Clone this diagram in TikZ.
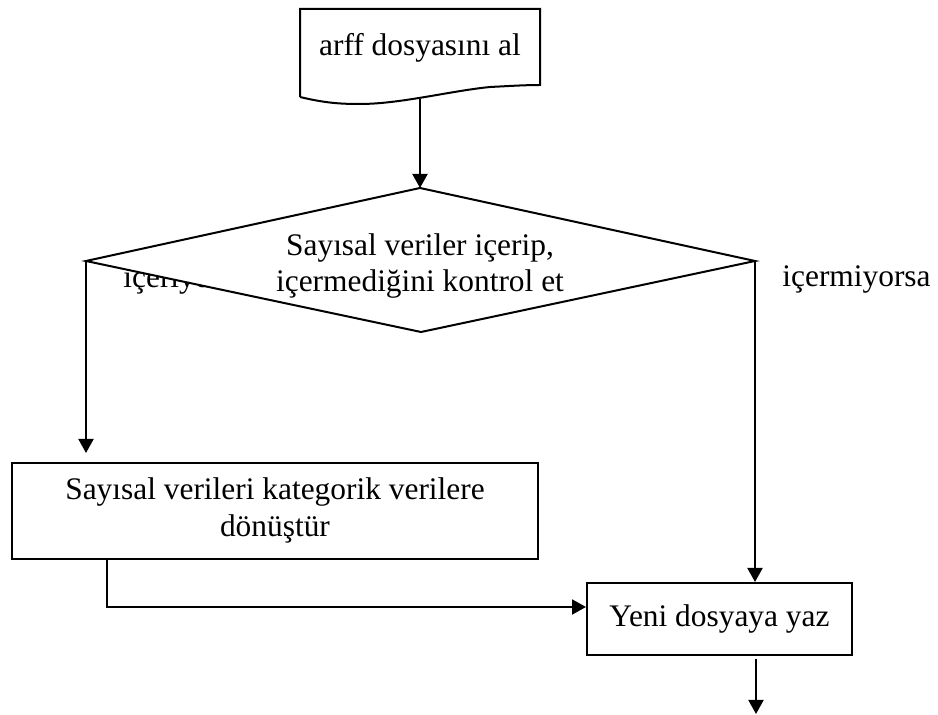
\documentclass[tikz,border=0pt]{standalone}
\usepackage{fontspec}
\setmainfont{Liberation Serif}
\usetikzlibrary{arrows.meta,calc}
\tikzset{
  base/.style={line width=1pt, draw=black},
  arr/.style={base, -{Triangle[length=7pt,width=7.5pt]}},
  boxnode/.style={base, rectangle, fill=white, inner sep=0pt, align=center},
  txt/.style={inner sep=0pt}
}
\begin{document}
\begin{tikzpicture}[x=0.5pt,y=-0.5pt,font=\fontsize{15.7}{18.5}\selectfont]
\useasboundingbox (0,0) rectangle (938,715);
% document shape
\draw[base, line join=miter] (300,97) -- (300,9) -- (540,9) -- (540,85)
  .. controls (525,85) and (510,86) .. (490,87)
  .. controls (450,91) and (400,104) .. (360,104)
  .. controls (340,104) and (325,103) .. (300,97);
\node[txt, anchor=base] (doctext) at (420,56) {arff dosyasını al};
\coordinate (docb) at (420,99);
% left label (partly hidden by the diamond)
\node[txt, anchor=base west] (yes) at (123,288) {içeriyorsa};
\node[txt, anchor=base west] (no) at (782,287) {içermiyorsa};
% diamond
\coordinate (dt) at (420,188);
\coordinate (dr) at (755,261);
\coordinate (db) at (421,332);
\coordinate (dl) at (86,261);
\filldraw[base, fill=white, line join=miter] (dt) -- (dr) -- (db) -- (dl) -- cycle;
\node[txt] (dec) at (420,266) {\begin{tabular}{@{}c@{}}Sayısal veriler içerip,\\[-0.5pt]içermediğini kontrol et\end{tabular}};
% boxes
\node[boxnode, minimum width=263pt, minimum height=48pt] (conv) at (275,511)
  {\begin{tabular}{@{}c@{}}Sayısal verileri kategorik verilere\\dönüştür\end{tabular}};
\node[boxnode, minimum width=132.5pt, minimum height=36pt] (fin) at (719.5,619) {Yeni dosyaya yaz};
% connectors
\draw[arr] (docb) -- (dt);
\draw[arr, shorten >=4.5pt] (dl) -- (dl |- conv.north);
\draw[arr] (dr) -- (dr |- fin.north);
\coordinate (turn) at (107,607);
\draw[arr] (conv.south -| turn) -- (turn) -- (turn -| fin.west);
\coordinate (out) at (756,714);
\draw[arr, shorten <=1.5pt] (out |- fin.south) -- (out);
\end{tikzpicture}
\end{document}
